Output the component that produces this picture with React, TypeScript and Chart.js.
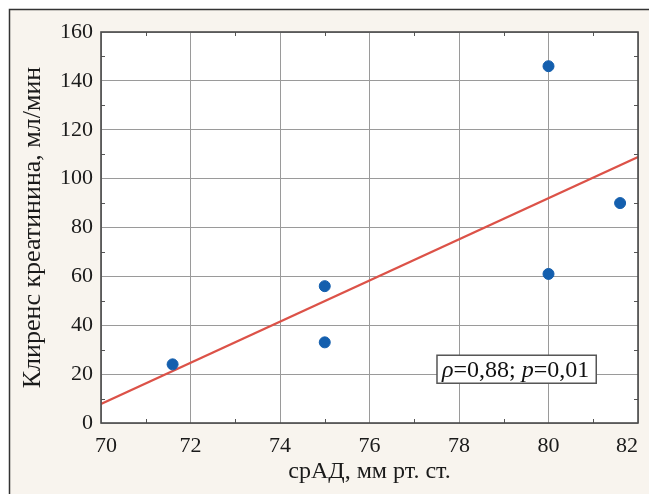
import React, { useEffect, useRef } from "react";
import { Chart, registerables } from "chart.js";

Chart.register(...registerables);

// ---- data ----
const xTickValues = [70, 72, 74, 76, 78, 80, 82];
const yTickValues = [0, 20, 40, 60, 80, 100, 120, 140, 160];
const pointX = [71.6, 75, 75, 80, 80, 81.6];
const pointY = [24, 56, 33, 146, 61, 90];
const fitX = [70, 82];
const fitY = [7.8, 108.8];
const xTitle = "срАД, мм рт. ст.";
const yTitle = "Клиренс креатинина, мл/мин";
const statParts = ["ρ", "=0,88; ", "p", "=0,01"];
const statItalic = [true, false, true, false];
const statAnchor = { x: 77.62, y: 22 };

const SERIF = "'Liberation Serif', 'Times New Roman', serif";

const framePlugin = {
  id: "framePlugin",
  beforeDraw(chart: any) {
    const { ctx, width, height, chartArea: a } = chart;
    ctx.save();
    ctx.fillStyle = "#ffffff";
    ctx.fillRect(0, 0, width, height);
    ctx.fillStyle = "#f8f4ee";
    ctx.fillRect(9, 9, width - 9, height - 9);
    ctx.strokeStyle = "#333333";
    ctx.lineWidth = 1.5;
    ctx.beginPath();
    ctx.moveTo(9.5, height);
    ctx.lineTo(9.5, 9.5);
    ctx.lineTo(width, 9.5);
    ctx.stroke();
    ctx.fillStyle = "#ffffff";
    ctx.fillRect(a.left, a.top, a.right - a.left, a.bottom - a.top);
    ctx.restore();
  },
  afterDraw(chart: any) {
    const { ctx, chartArea: a, scales } = chart;
    const xs = scales.x;
    const ys = scales.y;
    ctx.save();
    // minor ticks
    ctx.strokeStyle = "#555555";
    ctx.lineWidth = 1;
    ctx.beginPath();
    for (let v = 71; v < 82; v += 2) {
      const px = Math.round(xs.getPixelForValue(v)) + 0.5;
      ctx.moveTo(px, a.bottom);
      ctx.lineTo(px, a.bottom - 4);
      ctx.moveTo(px, a.top);
      ctx.lineTo(px, a.top + 4);
    }
    for (let v = 10; v < 160; v += 20) {
      const py = Math.round(ys.getPixelForValue(v)) + 0.5;
      ctx.moveTo(a.left, py);
      ctx.lineTo(a.left + 4, py);
      ctx.moveTo(a.right, py);
      ctx.lineTo(a.right - 4, py);
    }
    ctx.stroke();
    // frame
    ctx.strokeStyle = "#4a4a4a";
    ctx.lineWidth = 1.6;
    ctx.strokeRect(a.left, a.top, a.right - a.left, a.bottom - a.top);

    // x tick labels (kept inside the panel like the original)
    ctx.font = `22px ${SERIF}`;
    ctx.fillStyle = "#1a1a1a";
    ctx.textAlign = "center";
    ctx.textBaseline = "alphabetic";
    xTickValues.forEach((v) => {
      const px = xs.getPixelForValue(v);
      const cx = Math.min(Math.max(px, a.left + 5), a.right - 11);
      ctx.fillText(String(v), cx, a.bottom + 29);
    });

    // stat annotation
    const fontSize = 24;
    let totalW = 0;
    const widths: number[] = [];
    statParts.forEach((t, i) => {
      ctx.font = `${statItalic[i] ? "italic " : ""}${fontSize}px ${SERIF}`;
      const w = ctx.measureText(t).width;
      widths.push(w);
      totalW += w;
    });
    const tx = xs.getPixelForValue(statAnchor.x);
    const cy = ys.getPixelForValue(statAnchor.y);
    const bx = tx - 5;
    const bw = totalW + 12;
    const bh = 28;
    const by = cy - bh / 2;
    ctx.fillStyle = "#ffffff";
    ctx.fillRect(bx, by, bw, bh);
    ctx.strokeStyle = "#555555";
    ctx.lineWidth = 1.5;
    ctx.strokeRect(bx, by, bw, bh);
    ctx.fillStyle = "#111111";
    ctx.textBaseline = "middle";
    ctx.textAlign = "left";
    let cx = tx;
    statParts.forEach((t, i) => {
      ctx.font = `${statItalic[i] ? "italic " : ""}${fontSize}px ${SERIF}`;
      ctx.fillText(t, cx, cy + 1);
      cx += widths[i];
    });
    ctx.restore();
  },
};

export default function App() {
  const ref = useRef<HTMLCanvasElement | null>(null);

  useEffect(() => {
    if (!ref.current) return;
    const chart = new Chart(ref.current, {
      type: "scatter",
      data: {
        datasets: [
          {
            label: "points",
            data: pointX.map((x, i) => ({ x, y: pointY[i] })),
            backgroundColor: "#145fae",
            borderColor: "#145fae",
            pointRadius: 5.5,
            order: 1,
          },
          {
            label: "fit",
            data: fitX.map((x, i) => ({ x, y: fitY[i] })),
            showLine: true,
            borderColor: "#dc5248",
            borderWidth: 2.2,
            pointRadius: 0,
            order: 2,
          } as any,
        ],
      },
      options: {
        animation: false,
        responsive: false,
        maintainAspectRatio: false,
        layout: { padding: { left: 0, top: 32, right: 11, bottom: 0 } },
        plugins: {
          legend: { display: false },
          tooltip: { enabled: false },
        },
        scales: {
          x: {
            type: "linear",
            min: 70,
            max: 82,
            afterBuildTicks: (s: any) => {
              s.ticks = xTickValues.map((v) => ({ value: v }));
            },
            afterFit: (s: any) => {
              s.height = 71;
            },
            ticks: { display: false },
            grid: { color: "#9a9a9a", lineWidth: 1, drawTicks: false },
            border: { display: false },
            title: {
              display: true,
              text: xTitle,
              color: "#1a1a1a",
              font: { family: SERIF, size: 24 },
              padding: { top: 0, bottom: 8 },
            },
          },
          y: {
            type: "linear",
            min: 0,
            max: 160,
            afterBuildTicks: (s: any) => {
              s.ticks = yTickValues.map((v) => ({ value: v }));
            },
            afterFit: (s: any) => {
              s.width = 101;
            },
            ticks: {
              color: "#1a1a1a",
              font: { family: SERIF, size: 22 },
              padding: 8,
            },
            grid: { color: "#9a9a9a", lineWidth: 1, drawTicks: false },
            border: { display: false },
            title: {
              display: true,
              text: yTitle,
              color: "#1a1a1a",
              font: { family: SERIF, size: 26 },
              padding: { top: 18, bottom: 0 },
            },
          },
        },
      },
      plugins: [framePlugin],
    });
    return () => chart.destroy();
  }, []);

  return (
    <div style={{ position: "fixed", left: 0, top: 0, width: 649, height: 494 }}>
      <canvas ref={ref} width={649} height={494} style={{ width: 649, height: 494, display: "block" }} />
    </div>
  );
}
